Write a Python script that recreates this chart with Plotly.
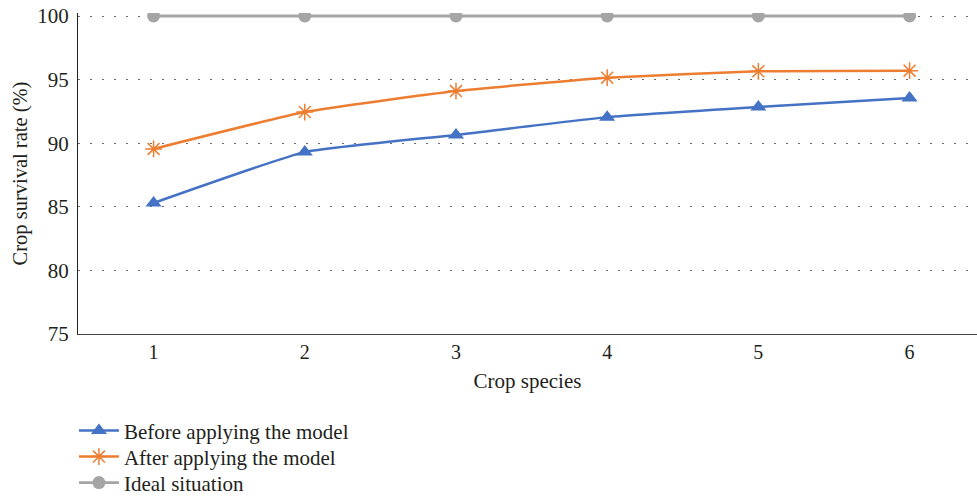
import plotly.graph_objects as go

species = [1, 2, 3, 4, 5, 6]
before = [85.3, 89.3, 90.65, 92.05, 92.85, 93.55]
after = [89.55, 92.45, 94.1, 95.15, 95.65, 95.7]
ideal = [100, 100, 100, 100, 100, 100]

y_ticks = [75, 80, 85, 90, 95, 100]

font_family = "Liberation Serif, Times New Roman, serif"
txt = "#231f20"

fig = go.Figure()
fig.add_trace(go.Scatter(
    x=species, y=before, name="Before applying the model", mode="lines+markers",
    line=dict(color="#4472C4", width=2.5, shape="spline", smoothing=0.4),
    marker=dict(symbol="triangle-up", size=14, color="#4472C4"),
    legend="legend",
))
fig.add_trace(go.Scatter(
    x=species, y=after, name="After applying the model", mode="lines+markers",
    line=dict(color="#ED7D31", width=2.5, shape="spline", smoothing=0.4),
    marker=dict(symbol="asterisk-open", size=14, color="#ED7D31", line=dict(color="#ED7D31", width=1.5)),
    legend="legend2",
))
fig.add_trace(go.Scatter(
    x=species, y=ideal, name="Ideal situation", mode="lines+markers",
    line=dict(color="#A5A5A5", width=2.8),
    marker=dict(symbol="circle", size=13, color="#A5A5A5"),
    legend="legend3",
))

leg_common = dict(x=-0.0045, xanchor="left", yanchor="middle", orientation="v",
                  font=dict(size=21, color=txt), bgcolor="rgba(0,0,0,0)",
                  itemwidth=40)

fig.update_layout(
    width=977, height=496,
    margin=dict(l=78, r=0, t=13, b=162, autoexpand=False),
    paper_bgcolor="white", plot_bgcolor="white",
    font=dict(family=font_family, size=21, color=txt),
    showlegend=True,
    legend=dict(y=-0.302, **leg_common),
    legend2=dict(y=-0.383, **leg_common),
    legend3=dict(y=-0.464, **leg_common),
    xaxis=dict(
        range=[0.5, 6.446], tickvals=species, ticks="", showgrid=False,
        showline=True, linecolor="#444444", linewidth=1.2, zeroline=False,
        title=dict(text="Crop species", font=dict(size=21), standoff=11),
        tickfont=dict(size=20), automargin=False,
    ),
    yaxis=dict(
        range=[75, 100.236], tickvals=y_ticks, ticks="", showgrid=True,
        gridcolor="#6b6b6b", griddash="1.5px,10.5px", gridwidth=1.2,
        showline=True, linecolor="#222222", linewidth=1.2, zeroline=False,
        title=dict(text="Crop survival rate (%)", font=dict(size=20.5), standoff=4),
        tickfont=dict(size=21), ticklabelstandoff=4, automargin=False,
    ),
)

fig.write_html("out.html", config={"displayModeBar": False},
               post_script="document.body.style.margin='0';document.body.style.overflow='hidden';")
